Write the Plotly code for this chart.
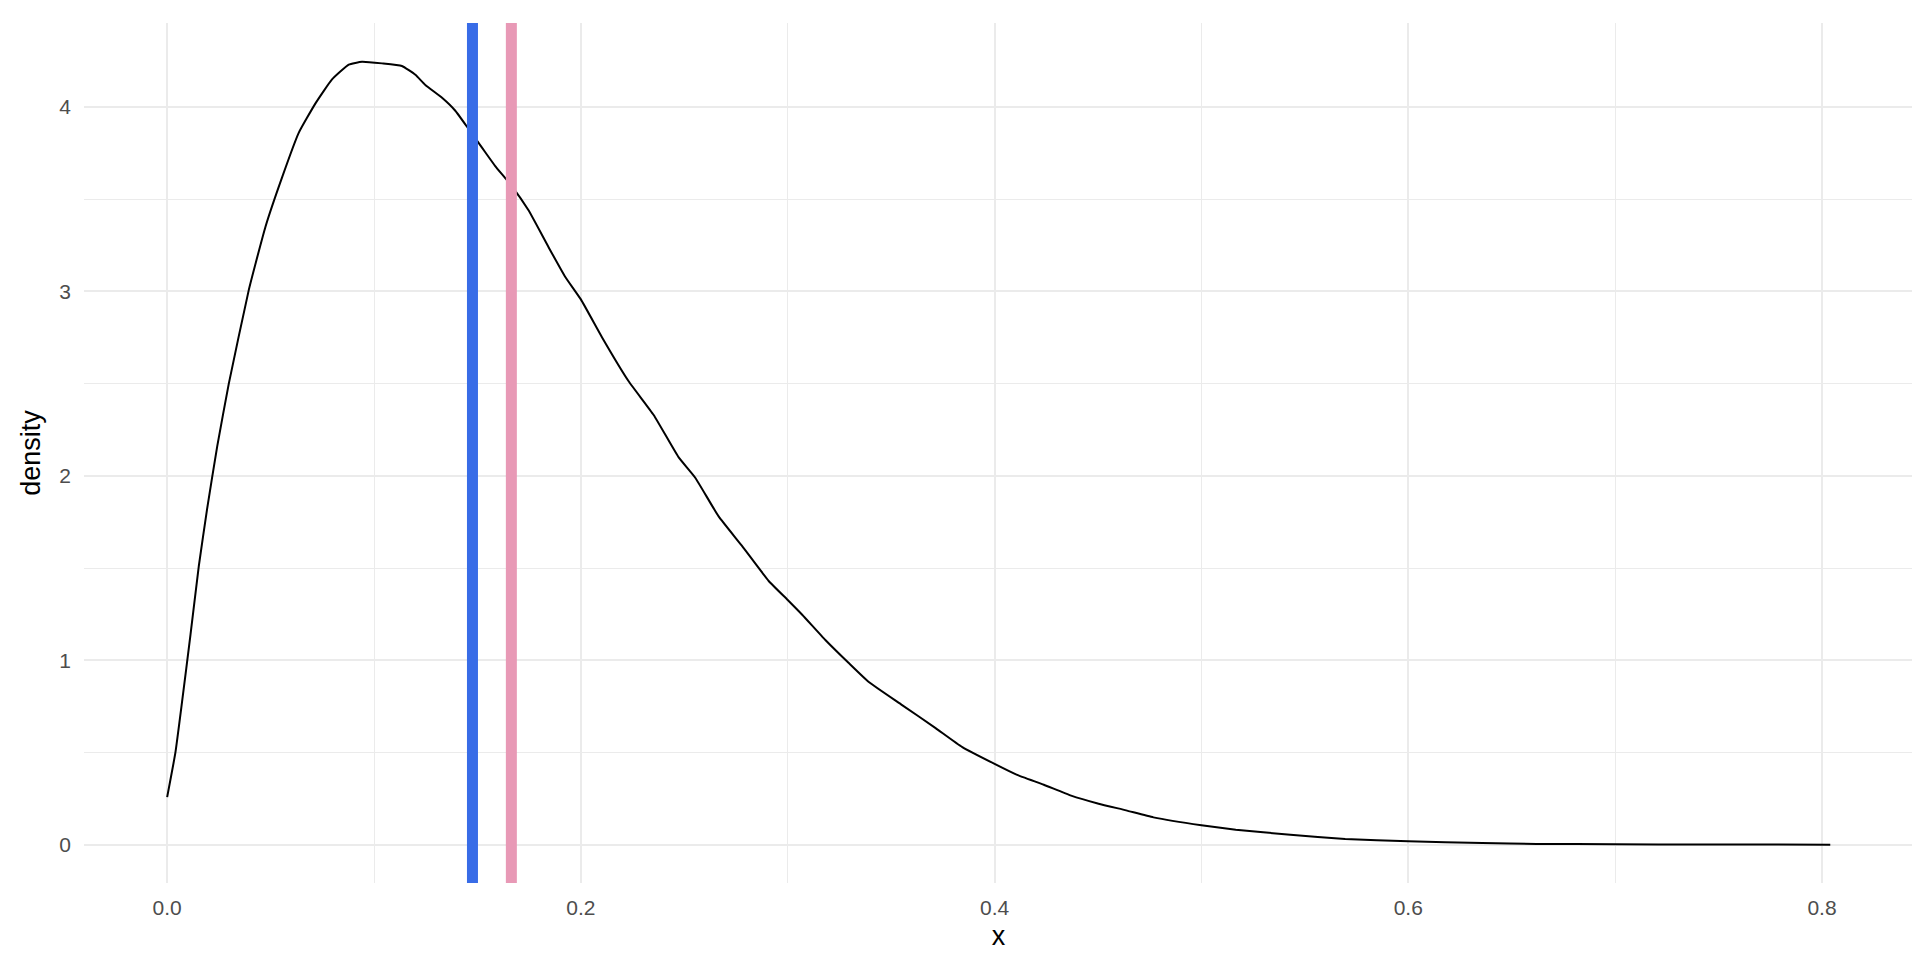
import plotly.graph_objects as go

# Density curve values
density_x = [0.0, 0.004, 0.0072, 0.0113, 0.0153, 0.0193, 0.0242, 0.0298, 0.0395, 0.0475,
             0.0556, 0.0636, 0.0717, 0.0797, 0.0878, 0.0942, 0.1039, 0.1135, 0.12, 0.1248,
             0.1329, 0.1393, 0.1458, 0.1522, 0.1586, 0.1667, 0.1747, 0.1844, 0.1924, 0.2,
             0.2102, 0.2231, 0.2352, 0.2473, 0.2553, 0.2666, 0.2779, 0.2908, 0.3, 0.307,
             0.3182, 0.3295, 0.3392, 0.3553, 0.3715, 0.3844, 0.4, 0.4106, 0.4238, 0.437,
             0.4503, 0.4636, 0.4768, 0.5, 0.5166, 0.543, 0.5695, 0.6, 0.6358, 0.662,
             0.7, 0.7417, 0.804]
density_y = [0.258, 0.5, 0.774, 1.14, 1.51, 1.82, 2.16, 2.50, 3.01, 3.35,
             3.62, 3.86, 4.02, 4.15, 4.23, 4.246, 4.237, 4.223, 4.175, 4.12,
             4.05, 3.98, 3.88, 3.78, 3.68, 3.57, 3.44, 3.24, 3.08, 2.957,
             2.752, 2.513, 2.33, 2.10, 1.99, 1.78, 1.62, 1.43, 1.327, 1.247,
             1.11, 0.985, 0.882, 0.757, 0.632, 0.529, 0.438, 0.38, 0.325, 0.266,
             0.222, 0.186, 0.148, 0.105, 0.081, 0.054, 0.031, 0.018, 0.009, 0.004,
             0.002, 0.001, 0.0]

# Vertical reference lines
vline_x = [0.1476, 0.1664]
vline_colors = ["#386CE7", "#E899B6"]

x_ticks = [0.0, 0.2, 0.4, 0.6, 0.8]
y_ticks = [0, 1, 2, 3, 4]

FONT = "Liberation Sans, Arial, Helvetica, sans-serif"

fig = go.Figure()
fig.add_trace(go.Scatter(
    x=density_x, y=density_y, mode="lines",
    line=dict(color="black", width=2, shape="spline", smoothing=0.4),
    showlegend=False, hoverinfo="skip",
))

for xv, col in zip(vline_x, vline_colors):
    fig.add_shape(type="line", xref="x", yref="y domain",
                  x0=xv, x1=xv, y0=0, y1=1,
                  line=dict(color=col, width=11), layer="above")

fig.update_layout(
    width=1920, height=960,
    paper_bgcolor="white", plot_bgcolor="white",
    margin=dict(l=76, r=15, t=15, b=85),
    font=dict(family=FONT, color="black"),
    showlegend=False,
    xaxis=dict(
        range=[-0.0402, 0.844], tickvals=x_ticks, tickformat=".1f",
        showgrid=True, gridcolor="#EBEBEB", gridwidth=2,
        minor=dict(dtick=0.1, tick0=0, showgrid=True, gridcolor="#EBEBEB", gridwidth=1),
        zeroline=False, showline=False, ticks="",
        tickfont=dict(size=21, color="#4D4D4D", family=FONT),
        ticklabelstandoff=10,
        title=dict(text="x", font=dict(size=27, color="black", family=FONT), standoff=8),
    ),
    yaxis=dict(
        range=[-0.208, 4.456], tickvals=y_ticks,
        showgrid=True, gridcolor="#EBEBEB", gridwidth=2,
        minor=dict(dtick=0.5, tick0=0, showgrid=True, gridcolor="#EBEBEB", gridwidth=1),
        zeroline=False, showline=False, ticks="",
        tickfont=dict(size=21, color="#4D4D4D", family=FONT),
        ticklabelstandoff=12,
        title=dict(text="density", font=dict(size=27, color="black", family=FONT), standoff=10),
    ),
)

fig.write_html("out.html")
